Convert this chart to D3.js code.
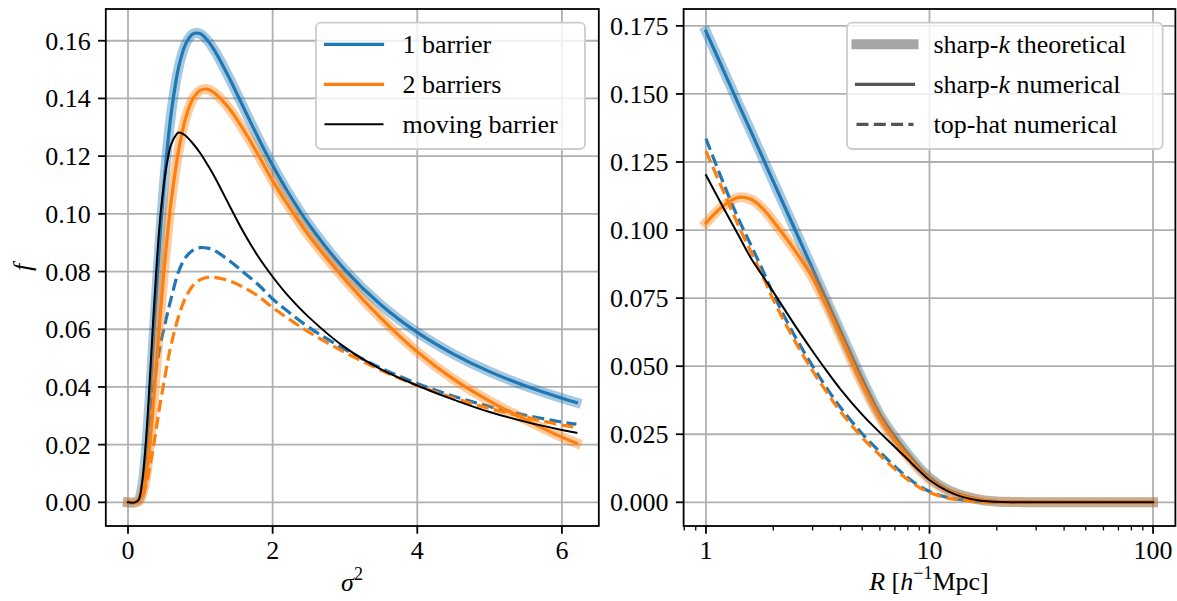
<!DOCTYPE html>
<html>
<head>
<meta charset="utf-8">
<script src="https://cdn.jsdelivr.net/npm/d3@7"></script>
<style>
  body { margin: 0; background: #fff; }
  text { font-family: "Liberation Serif", "DejaVu Serif", serif; fill: #000; }
</style>
</head>
<body>
<svg id="chart" width="1177" height="601"></svg>
<script>
// ---- left panel: f(sigma^2) ----
const sigma2 = [0, 0.1, 0.15, 0.2, 0.25, 0.3, 0.35, 0.4, 0.45, 0.5, 0.55, 0.6, 0.7, 0.8, 0.9, 1.0,
                1.1, 1.2, 1.4, 1.6, 1.8, 2.0, 2.2, 2.5, 3.0, 3.5, 4.0, 4.5, 5.0, 5.5, 6.0, 6.2];
const oneBarrierSharpK = [0, 0, 0.0009, 0.0062, 0.0183, 0.0359, 0.0560, 0.0761, 0.0947, 0.1109, 0.1244, 0.1354,
                0.1508, 0.1590, 0.1624, 0.1624, 0.1601, 0.1565, 0.1471, 0.1367, 0.1264, 0.1168, 0.1080, 0.0964,
                0.0806, 0.0684, 0.0589, 0.0514, 0.0453, 0.0403, 0.0361, 0.0346];
const twoBarrierSharpK = [0, 0, 0.0003, 0.0030, 0.0090, 0.0200, 0.0340, 0.0500, 0.0660, 0.0810, 0.0940, 0.1050,
                0.1220, 0.1335, 0.1400, 0.1428, 0.1432, 0.1418, 0.1365, 0.1290, 0.1205, 0.1115, 0.1035, 0.0925,
                0.0772, 0.0638, 0.0522, 0.0427, 0.0351, 0.0286, 0.0226, 0.0205];
const oneBarrierTopHat = [0, 0, 0.0005, 0.0040, 0.0120, 0.0250, 0.0380, 0.0480, 0.0550, 0.0605, 0.0660, 0.0710,
                0.0800, 0.0850, 0.0874, 0.0883, 0.0881, 0.0872, 0.0838, 0.0797, 0.0755, 0.0705, 0.0664, 0.0607,
                0.0530, 0.0465, 0.0412, 0.0368, 0.0332, 0.0302, 0.0278, 0.0271];
const twoBarrierTopHat = [0, 0, 0.0002, 0.0020, 0.0060, 0.0120, 0.0190, 0.0270, 0.0350, 0.0420, 0.0490, 0.0550,
                0.0645, 0.0712, 0.0752, 0.0772, 0.0780, 0.0780, 0.0768, 0.0745, 0.0715, 0.0675, 0.0640, 0.0590,
                0.0520, 0.0458, 0.0405, 0.0362, 0.0325, 0.0295, 0.0268, 0.0260];
const movingBarrier = [0, 0, 0.0010, 0.0080, 0.0220, 0.0420, 0.0640, 0.0840, 0.1000, 0.1110, 0.1190, 0.1243,
                0.1282, 0.1270, 0.1243, 0.1210, 0.1170, 0.1127, 0.1030, 0.0935, 0.0852, 0.0782, 0.0720, 0.0642,
                0.0537, 0.0461, 0.0405, 0.0356, 0.0313, 0.0279, 0.0251, 0.0241];
const leftXTicks = [0, 2, 4, 6];
const leftYTicks = [0, 0.02, 0.04, 0.06, 0.08, 0.10, 0.12, 0.14, 0.16];

// ---- right panel: f(R) ----
const radius = [1, 1.2, 1.4, 1.6, 1.8, 2, 2.5, 3, 3.5, 4, 5, 6, 7, 8, 9, 10, 12, 14, 17, 20, 25, 30, 40, 50, 70, 100];
const oneBarrierR = [0.1730, 0.1585, 0.1462, 0.1357, 0.1263, 0.1179, 0.1002, 0.0857, 0.0734, 0.0628, 0.0452, 0.0322,
                0.0240, 0.0178, 0.0128, 0.0091, 0.0047, 0.0026, 0.0009, 0.0003, 0.0001, 0, 0, 0, 0, 0];
const twoBarrierR = [0.1026, 0.1090, 0.1120, 0.1112, 0.1078, 0.1032, 0.0925, 0.0825, 0.0715, 0.0610, 0.0435, 0.0310,
                0.0228, 0.0168, 0.0120, 0.0085, 0.0044, 0.0024, 0.0008, 0.0003, 0.0001, 0, 0, 0, 0, 0];
const oneBarrierTopHatR = [0.1336, 0.1170, 0.1040, 0.0940, 0.0850, 0.0765, 0.0610, 0.0500, 0.0415, 0.0348, 0.0252, 0.0185,
                0.0132, 0.0090, 0.0060, 0.0040, 0.0018, 0.0009, 0.0003, 0.0001, 0, 0, 0, 0, 0, 0];
const twoBarrierTopHatR = [0.1290, 0.1140, 0.1015, 0.0915, 0.0828, 0.0745, 0.0592, 0.0483, 0.0400, 0.0333, 0.0238, 0.0173,
                0.0122, 0.0083, 0.0055, 0.0036, 0.0016, 0.0008, 0.0002, 0.0001, 0, 0, 0, 0, 0, 0];
const movingBarrierR = [0.1202, 0.1080, 0.0980, 0.0893, 0.0830, 0.0773, 0.0650, 0.0555, 0.0478, 0.0415, 0.0322, 0.0256,
                0.0203, 0.0157, 0.0116, 0.0082, 0.0042, 0.0020, 0.0006, 0.0002, 0, 0, 0, 0, 0, 0];
const rightXTicks = [1, 10, 100];
const rightYTicks = [0, 0.025, 0.05, 0.075, 0.1, 0.125, 0.15, 0.175];

const BLUE = "#1f77b4";
const ORANGE = "#ff7f0e";
const FONT = 26;

const svg = d3.select("#chart");
const axTop = 9, axBottom = 526;

function zip(xs, ys) {
    return xs.map((x, i) => ({ x: x, y: ys[i] }));
}

function drawPanel(cfg) {
    const g = svg.append("g");
    const x = cfg.x, y = cfg.y;
    const [x0, x1] = x.range();

    // grid (major only)
    g.selectAll(".vgrid").data(cfg.xTicks).enter().append("line")
        .attr("x1", d => x(d)).attr("x2", d => x(d))
        .attr("y1", axTop).attr("y2", axBottom)
        .attr("stroke", "#b0b0b0").attr("stroke-width", 1.8);
    g.selectAll(".hgrid").data(cfg.yTicks).enter().append("line")
        .attr("x1", x0).attr("x2", x1)
        .attr("y1", d => y(d)).attr("y2", d => y(d))
        .attr("stroke", "#b0b0b0").attr("stroke-width", 1.8);

    const line = d3.line()
        .x(d => x(d.x))
        .y(d => y(d.y))
        .curve(d3.curveCatmullRom.alpha(0.5));

    // curves, in plotting order
    cfg.series.forEach(s => {
        const path = g.append("path")
            .datum(zip(cfg.xs, s.values))
            .attr("d", line)
            .attr("fill", "none")
            .attr("stroke", s.color)
            .attr("stroke-width", s.width)
            .attr("stroke-linejoin", "round")
            .attr("stroke-linecap", s.dash ? "butt" : "square");
        if (s.opacity) path.attr("stroke-opacity", s.opacity);
        if (s.dash) path.attr("stroke-dasharray", s.dash);
    });

    // spines
    g.append("rect")
        .attr("x", x0).attr("y", axTop)
        .attr("width", x1 - x0).attr("height", axBottom - axTop)
        .attr("fill", "none").attr("stroke", "#000").attr("stroke-width", 1.8);

    // y ticks
    g.selectAll(".ytick").data(cfg.yTicks).enter().append("line")
        .attr("x1", x0 - 7.7).attr("x2", x0)
        .attr("y1", d => y(d)).attr("y2", d => y(d))
        .attr("stroke", "#000").attr("stroke-width", 1.8);
    g.selectAll(".ylab").data(cfg.yTicks).enter().append("text")
        .attr("x", x0 - 15)
        .attr("y", d => y(d) + 9)
        .attr("text-anchor", "end")
        .style("font-size", FONT + "px")
        .text(cfg.yFormat);

    // x ticks
    g.selectAll(".xtick").data(cfg.xTicks).enter().append("line")
        .attr("x1", d => x(d)).attr("x2", d => x(d))
        .attr("y1", axBottom).attr("y2", axBottom + 7.7)
        .attr("stroke", "#000").attr("stroke-width", 1.8);
    if (cfg.minorTicks) {
        g.selectAll(".mtick").data(cfg.minorTicks).enter().append("line")
            .attr("x1", d => x(d)).attr("x2", d => x(d))
            .attr("y1", axBottom).attr("y2", axBottom + 4.4)
            .attr("stroke", "#000").attr("stroke-width", 1.3);
    }
    g.selectAll(".xlab").data(cfg.xTicks).enter().append("text")
        .attr("x", d => x(d))
        .attr("y", 559)
        .attr("text-anchor", "middle")
        .style("font-size", FONT + "px")
        .text(d => d);

    // legend
    const lg = g.append("g");
    lg.append("rect")
        .attr("x", cfg.legend.x).attr("y", 22.7)
        .attr("width", cfg.legend.w).attr("height", 126.3)
        .attr("rx", 5)
        .attr("fill", "#fff").attr("fill-opacity", 0.8)
        .attr("stroke", "#cccccc").attr("stroke-width", 1.8);
    cfg.legend.items.forEach((it, i) => {
        const cy = 44.3 + i * 40;
        const lx = cfg.legend.x + 9.5;
        const l = lg.append("line")
            .attr("x1", lx).attr("x2", lx + 57)
            .attr("y1", cy).attr("y2", cy)
            .attr("stroke", it.color)
            .attr("stroke-width", it.width)
            .attr("stroke-linecap", it.dash ? "butt" : "square");
        if (it.opacity) l.attr("stroke-opacity", it.opacity);
        if (it.dash) l.attr("stroke-dasharray", it.dash);
        const t = lg.append("text")
            .attr("x", lx + 77)
            .attr("y", cy + 9)
            .style("font-size", FONT + "px");
        it.label.forEach(p => {
            t.append("tspan").style("font-style", p.italic ? "italic" : "normal").text(p.t);
        });
    });
    return g;
}

// ---------------- left ----------------
const xLeft = d3.scaleLinear().domain([-0.307, 6.51]).range([105.8, 598.8]);
const yLeft = d3.scaleLinear().domain([-0.0082, 0.1710]).range([axBottom, axTop]);

drawPanel({
    x: xLeft, y: yLeft, xs: sigma2,
    xTicks: leftXTicks, yTicks: leftYTicks,
    yFormat: d => d3.format(".2f")(d),
    series: [
        { values: oneBarrierSharpK, color: BLUE, width: 10, opacity: 0.4 },
        { values: oneBarrierSharpK, color: BLUE, width: 3.2 },
        { values: oneBarrierTopHat, color: BLUE, width: 3.2, dash: "12,5.3" },
        { values: twoBarrierSharpK, color: ORANGE, width: 10, opacity: 0.4 },
        { values: twoBarrierSharpK, color: ORANGE, width: 3.2 },
        { values: twoBarrierTopHat, color: ORANGE, width: 3.2, dash: "12,5.3" },
        { values: movingBarrier, color: "#000", width: 2 }
    ],
    legend: {
        x: 316, w: 269,
        items: [
            { color: BLUE, width: 3.2, label: [{ t: "1 barrier" }] },
            { color: ORANGE, width: 3.2, label: [{ t: "2 barriers" }] },
            { color: "#000", width: 2, label: [{ t: "moving barrier" }] }
        ]
    }
});

// ---------------- right ----------------
const xRight = d3.scaleLog().domain([Math.pow(10, -0.1), Math.pow(10, 2.1)]).range([683.6, 1175.4]);
const yRight = d3.scaleLinear().domain([-0.0087, 0.1812]).range([axBottom, axTop]);

const minorR = [];
[0.1, 1, 10, 100].forEach(dec => {
    for (let m = 2; m <= 9; m++) {
        const v = dec * m;
        if (v > xRight.domain()[0] && v < xRight.domain()[1] && v !== 1 && v !== 10 && v !== 100) minorR.push(v);
    }
});

drawPanel({
    x: xRight, y: yRight, xs: radius,
    xTicks: rightXTicks, yTicks: rightYTicks, minorTicks: minorR,
    yFormat: d => d3.format(".3f")(d),
    series: [
        { values: oneBarrierR, color: BLUE, width: 10, opacity: 0.4 },
        { values: oneBarrierR, color: BLUE, width: 3.2 },
        { values: oneBarrierTopHatR, color: BLUE, width: 3.2, dash: "12,5.3" },
        { values: twoBarrierR, color: ORANGE, width: 10, opacity: 0.4 },
        { values: twoBarrierR, color: ORANGE, width: 3.2 },
        { values: twoBarrierTopHatR, color: ORANGE, width: 3.2, dash: "12,5.3" },
        { values: movingBarrierR, color: "#000", width: 2 }
    ],
    legend: {
        x: 847, w: 315.6,
        items: [
            { color: "#808080", width: 10, opacity: 0.7, label: [{ t: "sharp-" }, { t: "k", italic: true }, { t: " theoretical" }] },
            { color: "#555555", width: 3.2, label: [{ t: "sharp-" }, { t: "k", italic: true }, { t: " numerical" }] },
            { color: "#555555", width: 3.2, dash: "12,5.3", label: [{ t: "top-hat numerical" }] }
        ]
    }
});

// axis labels
svg.append("text")
    .attr("x", 352).attr("y", 591)
    .attr("text-anchor", "middle")
    .style("font-size", FONT + "px")
    .call(t => {
        t.append("tspan").style("font-style", "italic").text("σ");
        t.append("tspan").attr("dy", -11).style("font-size", "18px").text("2");
    });

svg.append("text")
    .attr("x", 929).attr("y", 590)
    .attr("text-anchor", "middle")
    .style("font-size", FONT + "px")
    .call(t => {
        t.append("tspan").style("font-style", "italic").text("R");
        t.append("tspan").text(" [");
        t.append("tspan").style("font-style", "italic").text("h");
        t.append("tspan").attr("dy", -11).style("font-size", "18px").text("−1");
        t.append("tspan").attr("dy", 11).text("Mpc]");
    });

svg.append("text")
    .attr("transform", "translate(31,267.5) rotate(-90)")
    .attr("text-anchor", "middle")
    .style("font-size", FONT + "px")
    .style("font-style", "italic")
    .text("f");
</script>
</body>
</html>
